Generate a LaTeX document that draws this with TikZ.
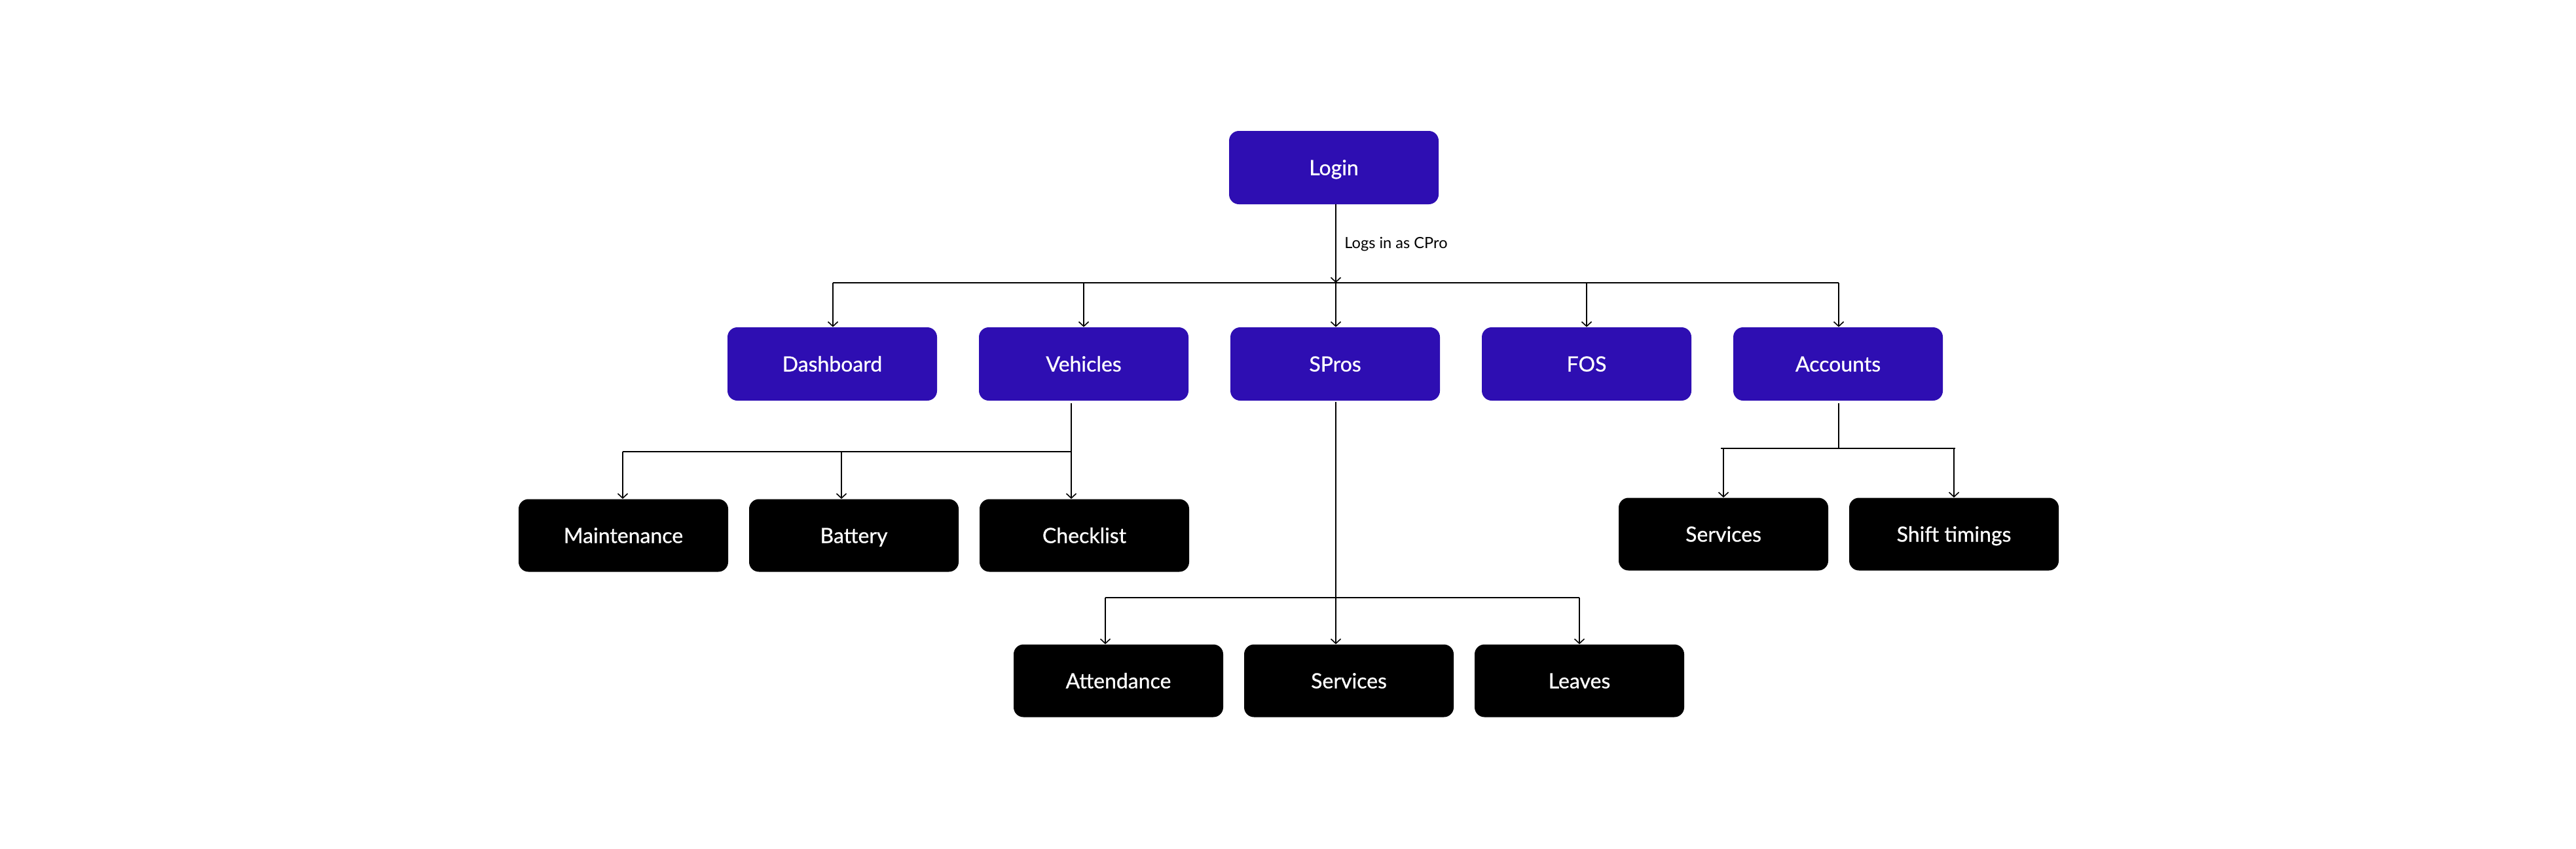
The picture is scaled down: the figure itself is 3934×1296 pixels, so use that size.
\documentclass[tikz,border=0pt]{standalone}
\usepackage{fontspec}
\setmainfont{Lato}
\newfontfamily\boxfont{Lato}[FakeBold=0.7]
\usetikzlibrary{arrows.meta}
\definecolor{boxblue}{RGB}{46,14,178}
\begin{document}
\begin{tikzpicture}[x=0.5pt,y=-0.5pt,
  basebox/.style={rectangle,rounded corners=7.5pt,text=white,minimum width=160pt,inner sep=0pt,text height=11.5pt,text depth=0pt,font=\boxfont\fontsize{16}{19}\selectfont},
  bluebox/.style={basebox,fill=boxblue,minimum height=56pt},
  blackbox/.style={basebox,fill=black,minimum height=55.5pt},
  conn/.style={line width=1pt,draw=black},
  arr/.style={conn,-{Straight Barb[length=3.5pt,width=7.5pt,line width=0.8pt]}}]
\useasboundingbox (0,0) rectangle (3934,1296);
% level 1
\node[bluebox] (login) at (2037,256) {Login};
% level 2
\node[bluebox] (dash) at (1271,556) {Dashboard};
\node[bluebox] (veh) at (1655,556) {Vehicles};
\node[bluebox] (spros) at (2039,556) {SPros};
\node[bluebox] (fos) at (2423,556) {FOS};
\node[bluebox] (acc) at (2807,556) {Accounts};
% level 3 left
\node[blackbox] (maint) at (952,818) {Maintenance};
\node[blackbox] (batt) at (1304,818) {Battery};
\node[blackbox] (check) at (1656,818) {Checklist};
% level 3 right
\node[blackbox] (accserv) at (2632,816) {Services};
\node[blackbox] (shift) at (2984,816) {Shift timings};
% level 4
\node[blackbox] (att) at (1708,1040) {Attendance};
\node[blackbox] (sserv) at (2060,1040) {Services};
\node[blackbox] (leave) at (2412,1040) {Leaves};
% bus coordinates
\coordinate (topbus) at (2040,432);
\coordinate (topL) at (1272,432);
\coordinate (topR) at (2808,432);
\coordinate (vbus) at (1636,690);
\coordinate (vbusL) at (951,690);
\coordinate (abus) at (2808,685);
\coordinate (abusL) at (2628,685);
\coordinate (abusR) at (2986,685);
\coordinate (sbus) at (2040,913);
\coordinate (sbusL) at (1688,913);
\coordinate (sbusR) at (2412,913);
% login to bus
\draw[arr] (login.south -| topbus) -- (topbus);
\node[anchor=west,inner sep=0pt,font=\fontsize{11.8}{14}\selectfont] (lbl) at (2053,373) {Logs in as CPro};
\draw[conn] (topL) -- (topR);
\draw[arr] (topL) -- (dash.north -| topL);
\draw[arr] (topL -| veh) -- (veh.north);
\draw[arr] (topbus) -- (spros.north -| topbus);
\draw[arr] (topL -| fos) -- (fos.north);
\draw[arr] (topR) -- (acc.north -| topR);
% vehicles
\draw[conn] ([yshift=-2pt]veh.south -| vbus) -- (vbus);
\draw[conn] (vbusL) -- (vbus);
\draw[arr] (vbusL) -- (maint.north -| vbusL);
\draw[arr] (vbus -| 1285,0) -- (batt.north -| 1285,0);
\draw[arr] (vbus) -- (check.north -| vbus);
% accounts
\draw[conn] ([yshift=-2pt]acc.south -| abus) -- (abus);
\draw[conn] (abusL) -- (abusR);
\draw[arr] (abus -| accserv) -- (accserv.north);
\draw[arr] (abus -| shift) -- (shift.north);
% spros
\draw[conn] ([yshift=-1pt]spros.south -| sbus) -- (sbus);
\draw[conn] (sbusL) -- (sbusR);
\draw[arr] (sbusL) -- (att.north -| sbusL);
\draw[arr] (sbus) -- (sserv.north -| sbus);
\draw[arr] (sbusR) -- (leave.north -| sbusR);
\end{tikzpicture}
\end{document}
